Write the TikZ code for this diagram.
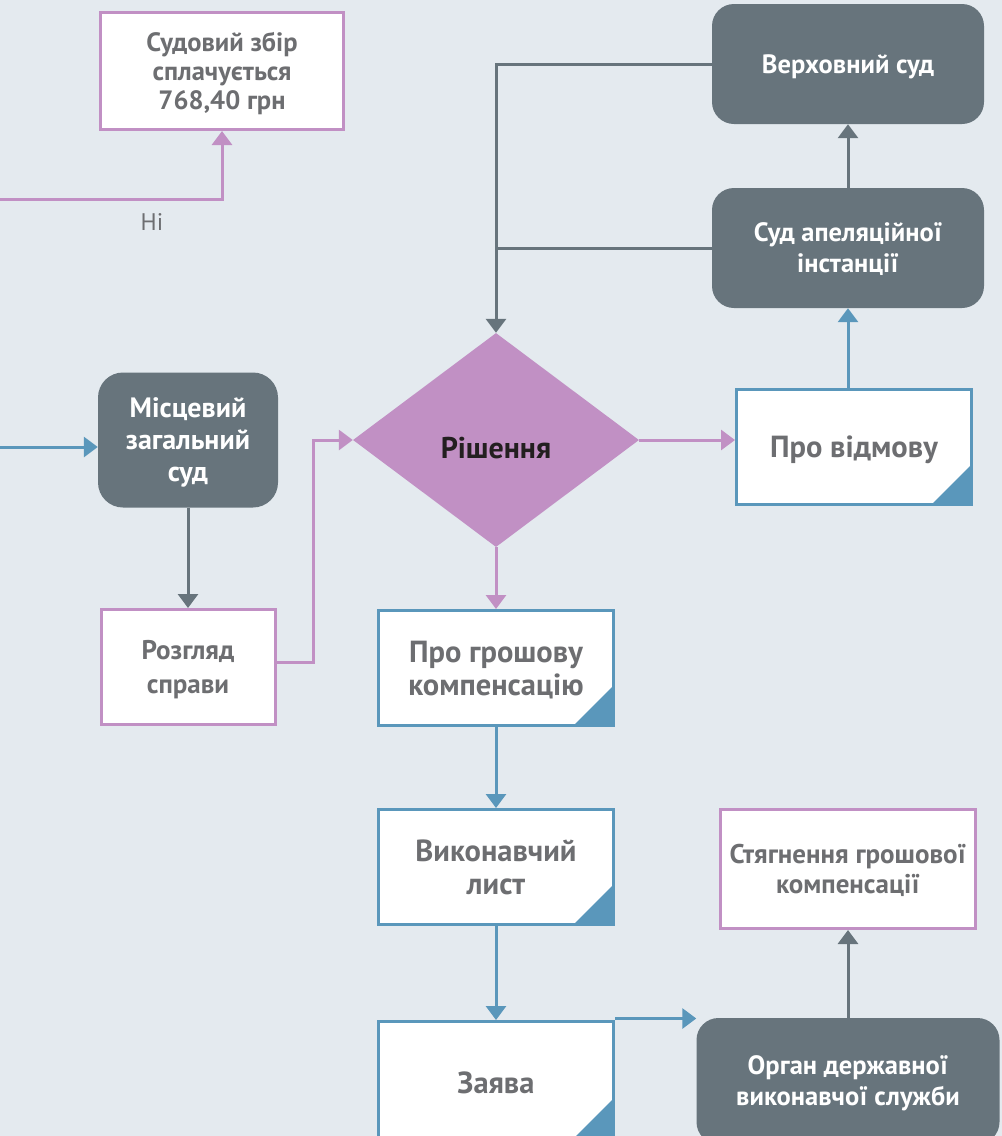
\documentclass[tikz,border=0pt]{standalone}
\usepackage{fontspec}
\setmainfont{PT Sans}
\usetikzlibrary{arrows.meta,shapes.geometric}
\definecolor{bgc}{HTML}{E4EAEF}
\definecolor{grayc}{HTML}{67747C}
\definecolor{purc}{HTML}{C190C4}
\definecolor{bluc}{HTML}{5A97BB}
\definecolor{txtc}{HTML}{6D6E71}
\definecolor{darkc}{HTML}{231F20}
\begin{document}
\begin{tikzpicture}[x=1pt,y=-1pt,
  every node/.style={inner sep=0pt,align=center,font=\bfseries},
  courtbox/.style={fill=grayc,rounded corners=22pt,text=white,text depth=0pt,font=\bfseries\fontsize{26.5}{31}\selectfont},
  purbox/.style={draw=purc,line width=3pt,fill=white,text=txtc,text depth=0pt,font=\bfseries\fontsize{26.5}{29}\selectfont},
  docbox/.style={draw=bluc,line width=3pt,fill=white,text=txtc,text depth=0pt,font=\bfseries\fontsize{30.5}{33}\selectfont,
    minimum width=235pt,minimum height=115pt,
    path picture={\fill[bluc] (path picture bounding box.south east) -- ++(-40,0) -- ++(40,-40) -- cycle;}},
  conn/.style={line width=3pt,-{Triangle[width=20pt,length=14pt]}},
  plain/.style={line width=3pt}
]
\useasboundingbox (0,0) rectangle (1002,1136);
\fill[bgc] (0,0) rectangle (1002,1136);

\node[purbox,minimum width=243pt,minimum height=117pt] (fee) at (222,71) {Судовий збір\\сплачується\\768,40 грн};
\node[courtbox,minimum width=272pt,minimum height=120pt] (sup) at (848,64) {Верховний суд};
\node[courtbox,minimum width=272pt,minimum height=120pt] (apel) at (848,248) {Суд апеляційної\\інстанції};
\node[docbox] (ref) at (854,447) {Про відмову};
\node[diamond,fill=purc,minimum width=286pt,minimum height=214pt,text=darkc,text height=37pt,text depth=0pt,font=\bfseries\fontsize{30}{33}\selectfont] (dec) at (496,440) {Рішення};
\node[docbox] (comp) at (496,668) {Про грошову\\компенсацію};
\node[docbox] (writ) at (496,867) {Виконавчий\\лист};
\node[docbox,minimum height=117pt,text height=26pt] (app) at (496,1080) {Заява};
\node[courtbox,minimum width=303pt,minimum height=126pt] (organ) at (848,1081) {Орган державної\\виконавчої служби};
\node[purbox,minimum width=255pt,minimum height=119pt,font=\bfseries\fontsize{27}{30}\selectfont] (coll) at (848,869) {Стягнення грошової\\компенсації};
\node[courtbox,minimum width=180pt,minimum height=135pt,rounded corners=25pt,font=\bfseries\fontsize{28}{32}\selectfont] (loc) at (188,440) {Місцевий\\загальний\\суд};
\node[purbox,minimum width=174pt,minimum height=115pt,font=\bfseries\fontsize{27}{34}\selectfont] (exam) at (188,667) {Розгляд\\справи};

\coordinate (inFee) at (0,199);
\coordinate (inLoc) at (0,447);
\node[font=\fontsize{24}{26}\selectfont,text=txtc] (no) at (152,222) {Ні};

\draw[conn,purc] (inFee) -| (fee.south);
\draw[plain,grayc,-{Triangle[width=20pt,length=14pt]}] (sup.west) -| (dec.north);
\draw[plain,grayc] (apel.west) -- (apel.west -| dec.north);
\draw[conn,grayc] (apel.north) -- (sup.south);
\draw[conn,bluc] (ref.north -| apel.south) -- (apel.south);
\draw[conn,purc] (dec.east) -- (dec.east -| ref.west);
\draw[conn,purc] (dec.south) -- (comp.north);
\draw[conn,bluc] (comp.south) -- (writ.north);
\draw[conn,bluc] (writ.south) -- (app.north);
\draw[conn,bluc] ([yshift=1.5pt]app.north east) -- ([yshift=1.5pt]app.north east -| organ.west);
\draw[conn,grayc] (organ.north) -- (coll.south);
\draw[conn,bluc] (inLoc) -- (inLoc -| loc.west);
\draw[conn,grayc] (loc.south) -- (exam.north);
\draw[conn,purc] ([yshift=5pt]exam.east) -- ++(37,0) |- (dec.west);
\end{tikzpicture}
\end{document}
